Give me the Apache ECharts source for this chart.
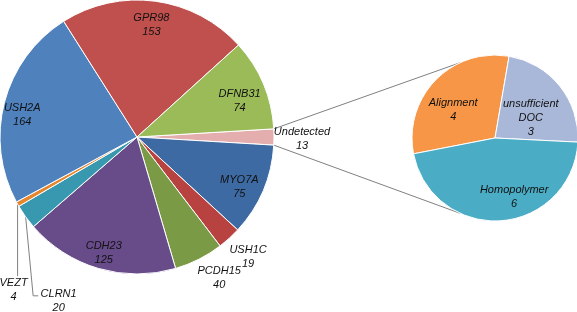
<!DOCTYPE html>
<html lang="en">
<head>
<meta charset="UTF-8">
<title>Usher genes - pie of pie</title>
<script src="https://cdn.jsdelivr.net/npm/echarts@6/dist/echarts.min.js"></script>
<style>
    html, body { margin: 0; padding: 0; background: #fff; }
    #chart { width: 577px; height: 312px; }
</style>
</head>
<body>
<div id="chart"></div>
<script>
// main pie, clockwise from the "Undetected" slice at 3 o'clock
const genes = ['Undetected', 'MYO7A', 'USH1C', 'PCDH15', 'CDH23', 'CLRN1', 'VEZT', 'USH2A', 'GPR98', 'DFNB31'];
const geneCounts = [13, 75, 19, 40, 125, 20, 4, 164, 153, 74];
const geneColors = ['#E3AEAD', '#3D6AA3', '#B8423F', '#7A9A45', '#684C8A', '#3798B0', '#E5872E', '#4F81BD', '#C0504D', '#9BBB59'];

// second pie: breakdown of "Undetected"
const causes = ['Alignment', 'unsufficient DOC', 'Homopolymer'];
const causeCounts = [4, 3, 6];
const causeColors = ['#F79646', '#A9B8D9', '#4BACC6'];

// which labels go where
const innerLabels = ['MYO7A', 'CDH23', 'USH2A', 'GPR98', 'DFNB31'];
const nearLabels = ['Undetected', 'USH1C', 'PCDH15'];
const leaderLabels = ['CLRN1', 'VEZT'];

// small hand tweaks so labels sit where Excel put them
const labelNudge = {
    GPR98: [-1, 1], DFNB31: [-3, 8], MYO7A: [-3, 5], CDH23: [-1, 6], USH2A: [-4, 7],
    Undetected: [3, 2], USH1C: [2, 0], PCDH15: [9, -4]
};

const MAIN_C = [137, 137], MAIN_R = 137;
const SUB_C = [495, 138], SUB_R = 83;
const total = geneCounts.reduce((a, b) => a + b, 0);
const startAngle = 180 * geneCounts[0] / total;

const textStyle = {
    color: '#111',
    fontStyle: 'italic',
    fontFamily: 'Liberation Sans',
    fontSize: 11,
    lineHeight: 14
};

function edgePoint(i) {
    let before = 0;
    for (let k = 0; k < i; k++) before += geneCounts[k];
    const a = (startAngle - 360 * (before + geneCounts[i] / 2) / total) * Math.PI / 180;
    return [MAIN_C[0] + MAIN_R * Math.cos(a), MAIN_C[1] - MAIN_R * Math.sin(a)];
}

function geneData(showFn, extra) {
    return genes.map((g, i) => Object.assign({
        name: g,
        value: geneCounts[i],
        label: { show: showFn(g) }
    }, extra ? extra(g, i) : {}));
}

// label-only copy of the main pie
function labelRing(names, radius) {
    return {
        type: 'pie',
        center: MAIN_C,
        radius: radius,
        startAngle: startAngle,
        silent: true,
        avoidLabelOverlap: false,
        z: 5,
        itemStyle: { color: 'transparent', borderWidth: 0 },
        label: Object.assign({ position: 'inside', formatter: '{b}\n{c}' }, textStyle),
        labelLine: { show: false },
        emphasis: { disabled: true },
        data: geneData(g => names.includes(g)),
        labelLayout: p => {
            const n = labelNudge[genes[p.dataIndex]] || [0, 0];
            return { hideOverlap: false, dx: n[0], dy: n[1] };
        }
    };
}

const subNudge = [[-10, 3], [1, 8], [16, 15]];
const subNames = ['Alignment', 'unsufficient\nDOC', 'Homopolymer'];

const chart = echarts.init(document.getElementById('chart'));
const halfGap = startAngle * Math.PI / 180;
const spoke = 115 * Math.PI / 180;
const lineStyle = { stroke: '#808080', lineWidth: 1 };

chart.setOption({
    backgroundColor: '#fff',
    animation: false,
    graphic: [
        {
            type: 'line', silent: true, style: lineStyle,
            shape: {
                x1: MAIN_C[0] + MAIN_R * Math.cos(halfGap), y1: MAIN_C[1] - MAIN_R * Math.sin(halfGap),
                x2: SUB_C[0] + SUB_R * Math.cos(spoke), y2: SUB_C[1] - SUB_R * Math.sin(spoke)
            }
        },
        {
            type: 'line', silent: true, style: lineStyle,
            shape: {
                x1: MAIN_C[0] + MAIN_R * Math.cos(halfGap), y1: MAIN_C[1] + MAIN_R * Math.sin(halfGap),
                x2: SUB_C[0] + SUB_R * Math.cos(spoke), y2: SUB_C[1] + SUB_R * Math.sin(spoke)
            }
        }
    ],
    series: [
        {
            type: 'pie',
            center: MAIN_C,
            radius: MAIN_R,
            startAngle: startAngle,
            silent: true,
            avoidLabelOverlap: false,
            itemStyle: { borderColor: '#fff', borderWidth: 1 },
            label: Object.assign({ position: 'outside', formatter: '{b}\n{c}' }, textStyle),
            labelLine: { show: true, length: 10, length2: 5, lineStyle: { color: '#808080', width: 1 } },
            emphasis: { disabled: true },
            data: geneData(g => leaderLabels.includes(g), (g, i) => ({
                itemStyle: { color: geneColors[i] },
                labelLine: { show: leaderLabels.includes(g) }
            })),
            labelLayout: function (params) {
                const g = genes[params.dataIndex];
                if (!leaderLabels.includes(g)) return;
                const p0 = (params.labelLinePoints && params.labelLinePoints[0]) || edgePoint(params.dataIndex);
                if (g === 'VEZT') {
                    return {
                        x: p0[0] - 4, y: p0[1] + 86, align: 'center', verticalAlign: 'middle',
                        labelLinePoints: [p0, [p0[0], p0[1] + 72], [p0[0], p0[1] + 72]]
                    };
                }
                return {
                    x: p0[0] + 33, y: p0[1] + 84, align: 'center', verticalAlign: 'middle',
                    labelLinePoints: [p0, [p0[0] + 7.5, p0[1] + 79], [p0[0] + 12.5, p0[1] + 79]]
                };
            }
        },
        labelRing(innerLabels, [86, MAIN_R]),
        labelRing(nearLabels, [MAIN_R, 181]),
        {
            type: 'pie',
            center: SUB_C,
            radius: SUB_R,
            startAngle: 191,
            silent: true,
            avoidLabelOverlap: false,
            itemStyle: { borderColor: '#fff', borderWidth: 1 },
            label: Object.assign({
                position: 'inside',
                formatter: p => subNames[p.dataIndex] + '\n' + p.value
            }, textStyle),
            labelLine: { show: false },
            emphasis: { disabled: true },
            data: causes.map((c, i) => ({ name: c, value: causeCounts[i], itemStyle: { color: causeColors[i] } })),
            labelLayout: p => ({ dx: subNudge[p.dataIndex][0], dy: subNudge[p.dataIndex][1] })
        }
    ]
});
window.addEventListener('resize', chart.resize);
</script>
</body>
</html>
